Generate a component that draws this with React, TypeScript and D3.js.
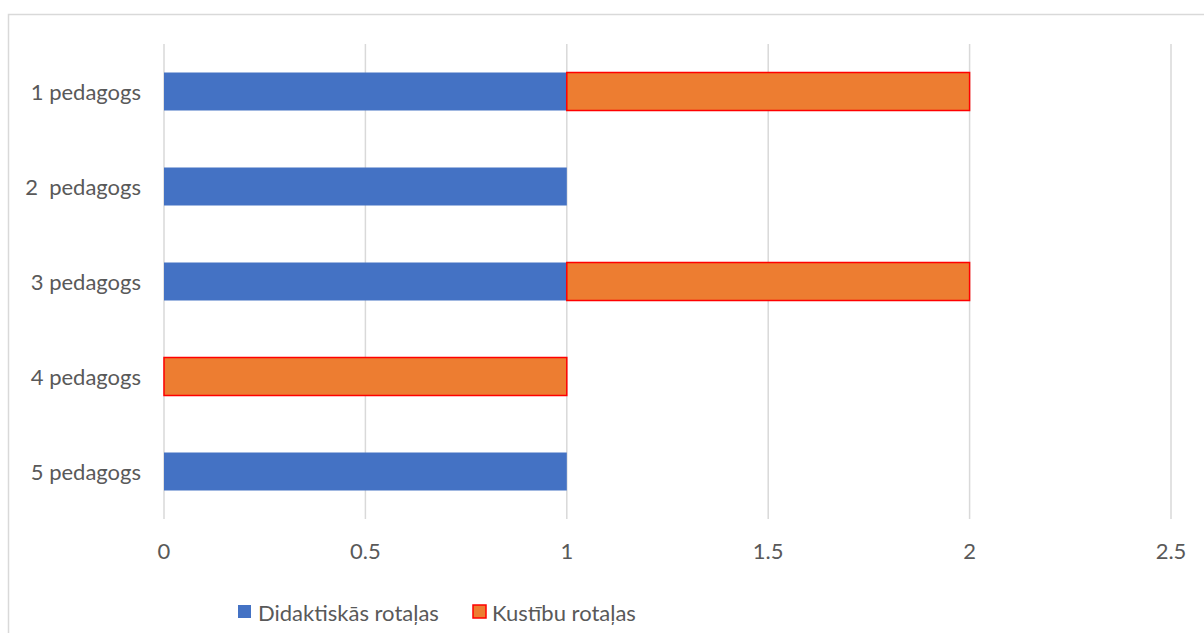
import React from "react";
import * as d3 from "d3";

const categories = ["1 pedagogs", "2  pedagogs", "3 pedagogs", "4 pedagogs", "5 pedagogs"];
const didaktiskas = [1, 1, 1, 0, 1];
const kustibu = [1, 0, 1, 1, 0];
const xTicks = [0, 0.5, 1, 1.5, 2, 2.5];
const seriesNames = ["Didaktiskās rotaļas", "Kustību rotaļas"];

const W = 1204;
const H = 633;
const FONT = "Lato, 'Open Sans', 'Liberation Sans', sans-serif";
const FS = 22;
const TXT = "#595959";

export default function App() {
  const x = d3.scaleLinear().domain([0, 2.5]).range([164, 1171]);
  const y = d3.scaleBand<string>().domain(categories).range([44, 519]).paddingInner(0.6).paddingOuter(0.3);
  const bh = y.bandwidth();
  return (
    <svg width={W} height={H} style={{ position: "absolute", left: 0, top: 0 }}>
      <rect x={0} y={0} width={W} height={H} fill="#fff" />
      <rect x={8.5} y={14.5} width={W} height={H} fill="#fff" stroke="#d9d9d9" strokeWidth={1.5} />
      {xTicks.map((t) => (
        <line key={t} x1={x(t)} x2={x(t)} y1={44} y2={519} stroke="#d9d9d9" strokeWidth={1.5} />
      ))}
      {categories.map((c, i) => {
        const yy = y(c)!;
        const d = didaktiskas[i];
        const k = kustibu[i];
        return (
          <g key={c}>
            {d > 0 && <rect x={x(0)} y={yy} width={x(d) - x(0)} height={bh} fill="#4472C4" />}
            {k > 0 && (
              <rect x={x(d)} y={yy} width={x(d + k) - x(d)} height={bh} fill="#ED7D31" stroke="#FF0000" strokeWidth={1.5} />
            )}
            <text x={141} y={yy + bh / 2} textAnchor="end" dominantBaseline="central" fontFamily={FONT} fontSize={FS} fill={TXT} style={{ whiteSpace: "pre" }}>
              {c}
            </text>
          </g>
        );
      })}
      {xTicks.map((t) => (
        <text key={t} x={x(t)} y={550} textAnchor="middle" dominantBaseline="central" fontFamily={FONT} fontSize={FS} fill={TXT}>
          {String(t)}
        </text>
      ))}
      <rect x={238} y={605} width={13} height={13} fill="#4472C4" />
      <text x={258} y={612} dominantBaseline="central" fontFamily={FONT} fontSize={FS} fill={TXT}>{seriesNames[0]}</text>
      <rect x={473} y={605} width={13} height={13} fill="#ED7D31" stroke="#FF0000" strokeWidth={1.5} />
      <text x={492} y={612} dominantBaseline="central" fontFamily={FONT} fontSize={FS} fill={TXT}>{seriesNames[1]}</text>
    </svg>
  );
}
